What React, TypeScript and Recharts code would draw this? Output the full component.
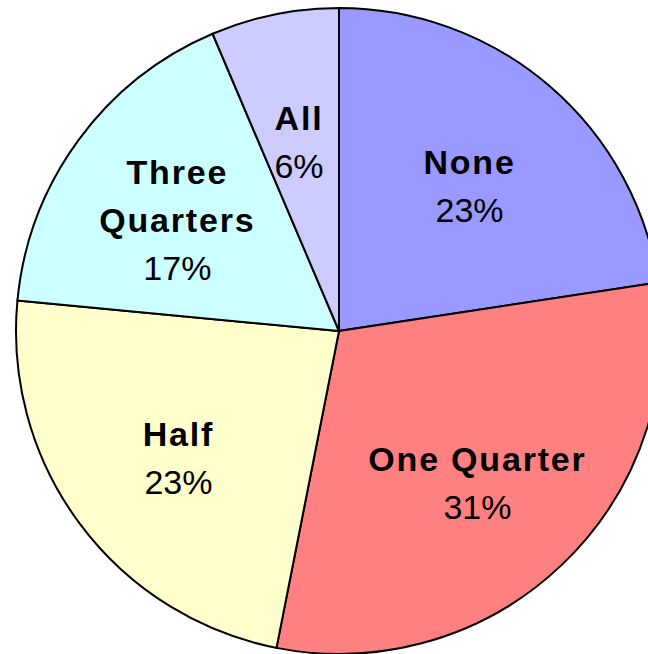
import { PieChart, Pie, Cell } from 'recharts';

const categories = ['None', 'One Quarter', 'Half', 'Three Quarters', 'All'];
const shares = [22.6, 30.5, 23.4, 17.1, 6.4];
const sliceColors = ['#9999FF', '#FF8080', '#FFFFCC', '#CCFFFF', '#CCCCFF'];

const data = categories.map((name, i) => ({ name, value: shares[i] }));

const RAD = Math.PI / 180;
const FONT = '"Liberation Sans", Arial, sans-serif';
const LINE_H = 48;

function SliceLabel(props: any) {
  const { cx, cy, midAngle, outerRadius, name, value } = props;
  const r = outerRadius * 0.62;
  const x = cx + r * Math.cos(-midAngle * RAD);
  const y = cy + r * Math.sin(-midAngle * RAD) + 7;
  // narrow slices get their name broken over two lines
  const nameLines: string[] = value < 20 && name.includes(' ') ? name.split(' ') : [name];
  const total = nameLines.length + 1;
  const first = y - ((total - 1) * LINE_H) / 2 + 12;
  return (
    <text x={x} y={first} textAnchor="middle" fill="#000" fontFamily={FONT} fontSize={34}>
      {nameLines.map((ln, i) => (
        <tspan key={i} x={x} dy={i === 0 ? 0 : LINE_H} fontWeight="bold" letterSpacing={1.8}>
          {ln}
        </tspan>
      ))}
      <tspan x={x} dy={LINE_H}>{Math.round(value)}%</tspan>
    </text>
  );
}

export default function App() {
  return (
    <div style={{ position: 'fixed', left: 0, top: 0, width: 648, height: 654, background: '#fff', overflow: 'hidden' }}>
      <PieChart width={648} height={654} margin={{ top: 0, right: 0, bottom: 0, left: 0 }}>
        <Pie
          data={data}
          dataKey="value"
          nameKey="name"
          cx={339}
          cy={331}
          outerRadius={323}
          startAngle={90}
          endAngle={-270}
          stroke="#000"
          strokeWidth={2}
          labelLine={false}
          label={<SliceLabel />}
          isAnimationActive={false}
        >
          {data.map((d, i) => (
            <Cell key={d.name} fill={sliceColors[i]} />
          ))}
        </Pie>
      </PieChart>
    </div>
  );
}
